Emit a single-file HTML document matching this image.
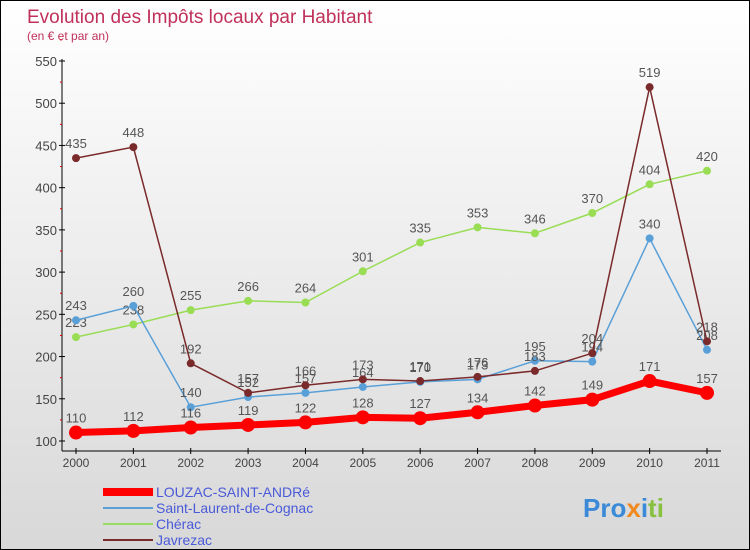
<!DOCTYPE html>
<html><head><meta charset="utf-8"><style>
body{margin:0}
#c{width:748px;height:548px;border:1px solid #000;background:linear-gradient(#fff,#d8d8d8);position:relative;font-family:"Liberation Sans",sans-serif;overflow:hidden}
</style></head><body>
<div id="c">
<svg id="s" width="748" height="548" style="position:absolute;left:0;top:0">
<text x="26" y="22" font-size="19" fill="#c0305a">Evolution des Impôts locaux par Habitant</text>
<text x="26" y="39" font-size="12" fill="#c0305a">(en € et par an)</text>
<g id="axes"></g><g id="series"></g>
<g>
<rect x="102" y="487" width="50" height="8" fill="#f00"/>
<text x="155" y="496" font-size="14" fill="#4a5ad8">LOUZAC-SAINT-ANDRé</text>
<rect x="102" y="506" width="50" height="2" fill="#5aa0d8"/>
<text x="155" y="512" font-size="14" fill="#4a5ad8">Saint-Laurent-de-Cognac</text>
<rect x="102" y="522" width="50" height="2" fill="#99dd66"/>
<text x="155" y="528" font-size="14" fill="#4a5ad8">Chérac</text>
<rect x="102" y="538" width="50" height="2" fill="#7a2a2a"/>
<text x="155" y="544" font-size="14" fill="#4a5ad8">Javrezac</text>
</g>
<text x="582" y="516" font-size="26" font-weight="bold"><tspan fill="#3a8ad8">Pro</tspan><tspan fill="#f08a20">x</tspan><tspan fill="#3a8ad8">i</tspan><tspan fill="#88c040">ti</tspan></text>
</svg></div>
<script>
const years=["2000","2001","2002","2003","2004","2005","2006","2007","2008","2009","2010","2011"];
const yTicks=[100,150,200,250,300,350,400,450,500,550];
const louzac=[110,112,116,119,122,128,127,134,142,149,171,157];
const saintLaurent=[243,260,140,152,157,164,170,173,195,194,340,208];
const cherac=[223,238,255,266,264,301,335,353,346,370,404,420];
const javrezac=[435,448,192,157,166,173,171,176,183,204,519,218];
const NS="http://www.w3.org/2000/svg";
const X=i=>75+i*(706-75)/11, Y=v=>440-(v-100)*(380/450);
function mk(t,a,p){const e=document.createElementNS(NS,t);for(const k in a)e.setAttribute(k,a[k]);p.appendChild(e);return e;}
const ax=document.getElementById('axes'),sg=document.getElementById('series');
const yl=mk('line',{x1:61,y1:58,x2:61,y2:450,stroke:'#000'},ax);


const xl=mk('line',{x1:61,y1:450,x2:720,y2:450,stroke:'#000'},ax);


yTicks.forEach(v=>{mk('line',{x1:58,x2:64,y1:Y(v),y2:Y(v),stroke:'#000'},ax);
mk('line',{x1:59,x2:61,y1:Y(v+25),y2:Y(v+25),stroke:'#d00'},ax);
const t=mk('text',{x:56,y:Y(v)+5,'font-size':13,fill:'#444','text-anchor':'end'},ax);t.textContent=v;

});
years.forEach((y,i)=>{mk('line',{x1:X(i),x2:X(i),y1:447,y2:453,stroke:'#000'},ax);
const t=mk('text',{x:X(i),y:466,'font-size':12,fill:'#444','text-anchor':'middle'},ax);t.textContent=y;

});
function series(d,name,col,w,r){const g=mk('g',{},sg);


mk('polyline',{points:d.map((v,i)=>X(i)+','+Y(v)).join(' '),fill:'none',stroke:col,'stroke-width':w},g);
d.forEach((v,i)=>{const c=mk('circle',{cx:X(i),cy:Y(v),r:r,fill:col},g);


const t=mk('text',{x:X(i),y:Y(v)-10,'font-size':13,fill:'#555','text-anchor':'middle'},g);t.textContent=v;

});}
series(cherac,'series-cherac','#99dd55',1.5,4);
series(saintLaurent,'series-saint-laurent','#5aa0d8',1.5,4);
series(javrezac,'series-javrezac','#7a2a2a',1.5,4);
series(louzac,'series-louzac','#f00',7,7);
</script></body></html>
